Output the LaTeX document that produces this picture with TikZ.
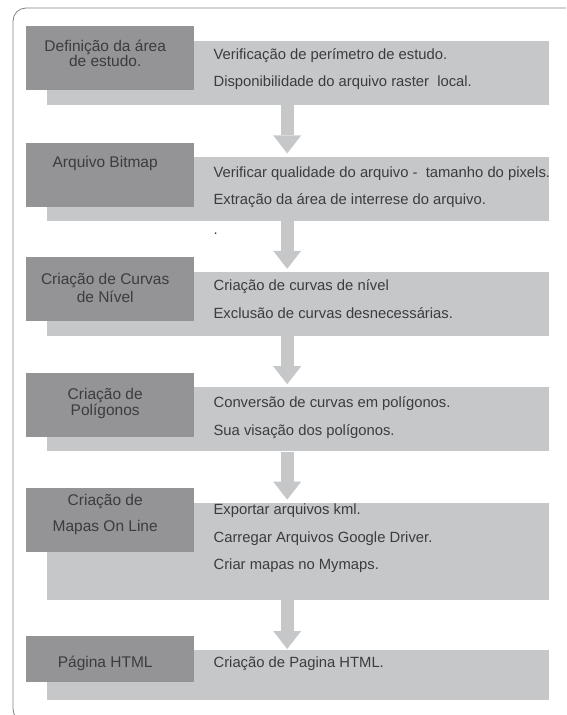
\documentclass[tikz,border=0pt]{standalone}
\usepackage{fontspec}
\setmainfont{Liberation Sans}
\usepackage{tikz}
\usetikzlibrary{positioning,arrows.meta}

\definecolor{boxdark}{RGB}{148,148,151}
\definecolor{boxlight}{RGB}{198,199,201}
\definecolor{textgray}{RGB}{60,60,62}
\definecolor{framegray}{RGB}{130,130,132}

\begin{document}
\begin{tikzpicture}[
    x=1pt, y=1pt,
    node distance=51pt,
    stage/.style={rectangle, fill=boxlight, minimum width=502pt, minimum height=64pt, inner sep=0pt},
    title/.style={rectangle, fill=boxdark, minimum width=168pt, minimum height=64pt, inner sep=0pt},
    titletext/.style={font=\fontsize{15.5}{14.5}\selectfont, text=textgray, align=center, inner sep=0pt, anchor=base},
    itemtext/.style={font=\fontsize{14.8}{27.5}\selectfont, text=textgray, align=left, inner sep=0pt, anchor=base west},
    flow/.style={draw=boxlight, line width=13pt, -{Triangle[width=28pt 0 0, length=18pt 0 0, line width=0pt]}}
]
\useasboundingbox (0,0) rectangle (566,-715);

% Outer frame (top and left side only)
\draw[framegray, line width=0.8pt, rounded corners=13pt] (566,-8) -- (13,-8) -- (13,-722) -- (60,-722);

% Light stage boxes
\node[stage, anchor=north west] (s1) at (47,-41) {};
\node[stage, below=of s1] (s2) {};
\node[stage, below=of s2] (s3) {};
\node[stage, below=of s3] (s4) {};
\node[stage, below=of s4, minimum height=97pt] (s5) {};
\node[stage, below=50pt of s5, minimum height=50pt] (s6) {};

% Dark title boxes
\node[title, anchor=north west] (t1) at ([xshift=-21pt, yshift=15pt]s1.north west) {};
\node[title, anchor=north west] (t2) at ([xshift=-21pt, yshift=14pt]s2.north west) {};
\node[title, anchor=north west] (t3) at ([xshift=-21pt, yshift=15pt]s3.north west) {};
\node[title, anchor=north west] (t4) at ([xshift=-21pt, yshift=14pt]s4.north west) {};
\node[title, anchor=north west] (t5) at ([xshift=-21pt, yshift=15pt]s5.north west) {};
\node[title, anchor=north west, minimum height=46pt] (t6) at ([xshift=-21pt, yshift=14pt]s6.north west) {};

% Titles (base = last line)
\node[titletext] (t1text) at ([xshift=-5pt, yshift=-40.8pt]t1.north) {Definição da área\\de estudo.};
\node[titletext] (t2text) at ([xshift=-5pt, yshift=-25pt]t2.north) {Arquivo Bitmap};
\node[titletext, font=\fontsize{15.5}{17.5}\selectfont] (t3text) at ([xshift=-5pt, yshift=-45.5pt]t3.north) {Criação de Curvas\\de Nível};
\node[titletext, font=\fontsize{15.5}{16}\selectfont] (t4text) at ([xshift=-5pt, yshift=-42pt]t4.north) {Criação de\\Polígonos};
\node[titletext, font=\fontsize{15.5}{26}\selectfont] (t5text) at ([xshift=-5pt, yshift=-44pt]t5.north) {Criação de\\Mapas On Line};
\node[titletext] (t6text) at ([xshift=-5pt, yshift=-31pt]t6.north) {Página HTML};

% Stage items (base = last line)
\node[itemtext] (s1text) at ([xshift=19pt, yshift=-60.8pt]t1.north east) {Verificação de perímetro de estudo.\\Disponibilidade do arquivo raster~ local.};
\node[itemtext] (s2text) at ([xshift=19pt, yshift=-62.2pt]t2.north east) {Verificar qualidade do arquivo -~ tamanho do pixels.\\Extração da área de interrese do arquivo.};
\node[itemtext] (s2dot) at ([xshift=19pt, yshift=-92.5pt]t2.north east) {.};
\node[itemtext] (s3text) at ([xshift=19pt, yshift=-61.5pt]t3.north east) {Criação de curvas de nível\\Exclusão de curvas desnecessárias.};
\node[itemtext] (s4text) at ([xshift=19pt, yshift=-62.2pt]t4.north east) {Conversão de curvas em polígonos.\\Sua visação dos polígonos.};
\node[itemtext] (s5text) at ([xshift=19pt, yshift=-82.3pt]t5.north east) {Exportar arquivos kml.\\Carregar Arquivos Google Driver.\\Criar mapas no Mymaps.};
\node[itemtext] (s6text) at ([xshift=19pt, yshift=-31pt]t6.north east) {Criação de Pagina HTML.};

% Flow arrows
\draw[flow] ([xshift=-11pt]s1.south) -- ([xshift=-11pt, yshift=3pt]s2.north);
\draw[flow] ([xshift=-11pt]s2.south) -- ([xshift=-11pt, yshift=3pt]s3.north);
\draw[flow] ([xshift=-11pt]s3.south) -- ([xshift=-11pt, yshift=3pt]s4.north);
\draw[flow] ([xshift=-11pt]s4.south) -- ([xshift=-11pt, yshift=3pt]s5.north);
\draw[flow] ([xshift=-11pt]s5.south) -- ([xshift=-11pt, yshift=1pt]s6.north);
\end{tikzpicture}
\end{document}
